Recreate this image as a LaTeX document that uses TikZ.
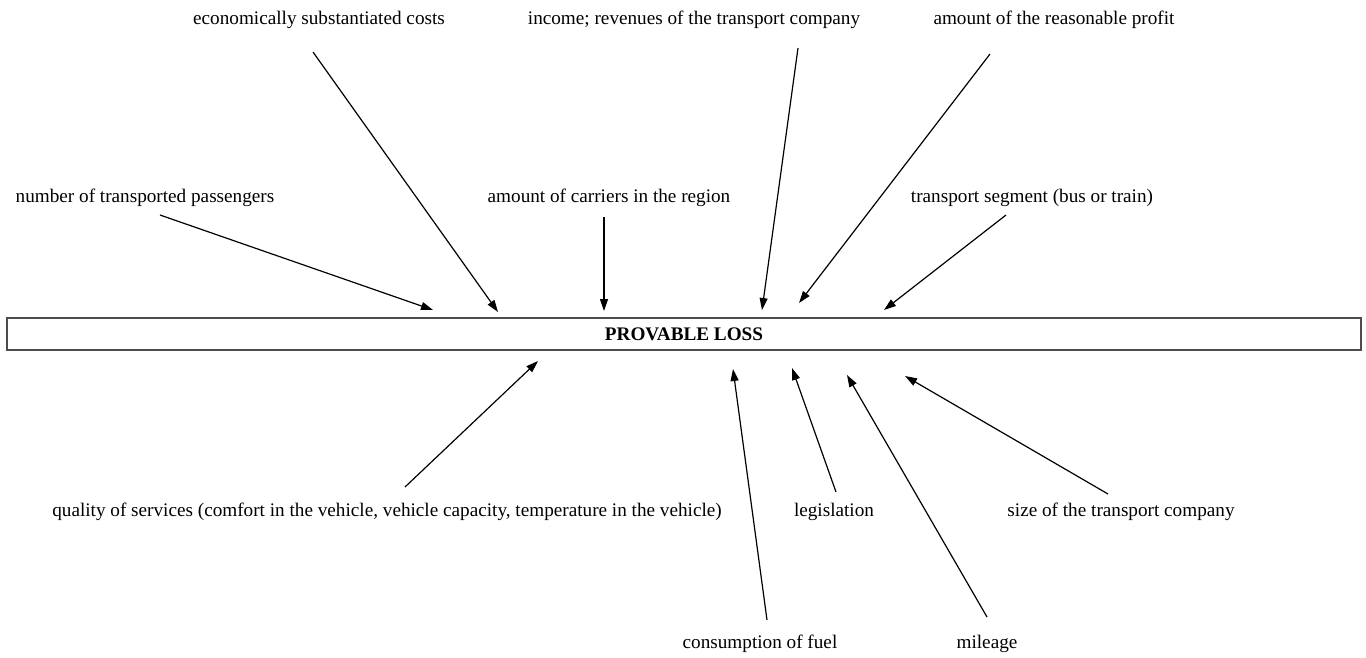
\documentclass[tikz,border=0pt]{standalone}
\usepackage{fontspec}
\setmainfont{Liberation Serif}
\usetikzlibrary{arrows.meta}

\tikzset{every picture/.style={line width=0.75pt}}
\tikzset{
	factor/.style={inner sep=0.75pt, font=\fontsize{14.4}{17}\selectfont},
	cause/.style={-{Triangle[length=9pt,width=6pt]}, line width=0.9pt},
	lossbox/.style={draw=black!70, line width=1.2pt, minimum width=1015.5pt, minimum height=24pt, inner sep=0pt, font=\fontsize{14.4}{17}\selectfont\bfseries},
}

\begin{document}
\begin{tikzpicture}[x=0.75pt,y=0.75pt,yscale=-1,xscale=1]
	\useasboundingbox (0,0) rectangle (1366,657);
	
	%Main box
	\node [lossbox] (loss) at (684,334) {PROVABLE LOSS};
	
	%Factors above
	\node [factor] (costs) at (319,20) {economically substantiated costs};
	\node [factor] (income) at (694,20) {income; revenues of the transport company};
	\node [factor] (profit) at (1054,20) {amount of the reasonable profit};
	\node [factor] (passengers) at (145,198) {number of transported passengers};
	\node [factor] (carriers) at (609,198) {amount of carriers in the region};
	\node [factor] (segment) at (1032,198) {transport segment (bus or train)};
	
	%Factors below
	\node [factor] (quality) at (387,512) {quality of services (comfort in the vehicle, vehicle capacity, temperature in the vehicle)};
	\node [factor] (legislation) at (834,512) {legislation};
	\node [factor] (size) at (1121,512) {size of the transport company};
	\node [factor] (fuel) at (760,644) {consumption of fuel};
	\node [factor] (mileage) at (987,644) {mileage};
	
	%Arrow ends
	\coordinate (passengers-t) at (160,215);  \coordinate (passengers-h) at (433,310);
	\coordinate (costs-t) at (313,52);        \coordinate (costs-h) at (498,312);
	\coordinate (carriers-t) at (604,217);    \coordinate (carriers-h) at (604,311);
	\coordinate (income-t) at (798,48);       \coordinate (income-h) at (762,310);
	\coordinate (profit-t) at (990,54);       \coordinate (profit-h) at (799,303);
	\coordinate (segment-t) at (1006,215);    \coordinate (segment-h) at (884,310);
	\coordinate (quality-t) at (405,487);     \coordinate (quality-h) at (538,361);
	\coordinate (fuel-t) at (767,620);        \coordinate (fuel-h) at (733,369);
	\coordinate (legislation-t) at (836,492); \coordinate (legislation-h) at (792,368);
	\coordinate (mileage-t) at (987,617);     \coordinate (mileage-h) at (847,375);
	\coordinate (size-t) at (1108,494);       \coordinate (size-h) at (905,376);
	
	\foreach \f in {passengers,costs,carriers,income,profit,segment,quality,fuel,legislation,mileage,size}
		\draw [cause] (\f-t) -- (\f-h);
	
\end{tikzpicture}
\end{document}
